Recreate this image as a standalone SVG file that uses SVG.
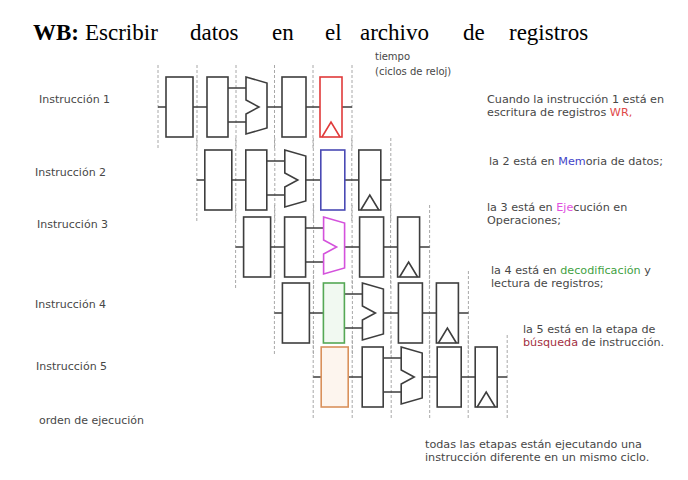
<svg xmlns="http://www.w3.org/2000/svg" width="688" height="480" viewBox="0 0 688 480">
<style>
  .hd { font-family: "Liberation Serif", "Times New Roman", serif; font-size: 23px; fill: #000; }
  .b { font-weight: bold; }
  .lbl { font-family: "DejaVu Sans", Verdana, sans-serif; font-size: 11px; fill: #474747; }
  .note { font-family: "DejaVu Sans", Verdana, sans-serif; font-size: 11.2px; fill: #474747; }
  .sm { font-family: "DejaVu Sans", Verdana, sans-serif; font-size: 10px; fill: #474747; }
  .st { fill: #fff; stroke: #3e3e3e; stroke-width: 1.6; }
  .w { fill: none; stroke: #3e3e3e; stroke-width: 1.6; }
  .clk { stroke: #a8a8a8; stroke-width: 1; stroke-dasharray: 3 2; fill: none; }
  .red { stroke: #e03a3a; }
  .blue { stroke: #4a4ab4; }
  .mag { stroke: #d452dc; }
  .grn { stroke: #55a855; fill: #f1f9f1; }
  .org { stroke: #d9915c; fill: #fdf5ee; }
</style>

<!-- header -->
<g id="header">
  <text class="hd b" x="33" y="40">WB:</text>
  <text class="hd" x="85" y="40">Escribir</text>
  <text class="hd" x="190" y="40">datos</text>
  <text class="hd" x="272" y="40">en</text>
  <text class="hd" x="325" y="40">el</text>
  <text class="hd" x="360" y="40">archivo</text>
  <text class="hd" x="463" y="40">de</text>
  <text class="hd" x="509" y="40">registros</text>
</g>

<g id="time-label">
  <text class="sm" x="375" y="60">tiempo</text>
  <text class="sm" x="375" y="75">(ciclos de reloj)</text>
</g>

<!-- clock boundaries -->
<g id="clock-lines">
  <path class="clk" d="M158 65V149 M197 65V149 M236 65V149 M274.5 65V149 M313 65V149 M352 65V149"/>
  <path class="clk" d="M196.8 138V222 M235.8 138V222 M274.8 138V222 M313.3 138V222 M351.8 138V222 M390.8 138V222"/>
  <path class="clk" d="M235.6 205V289 M274.6 205V289 M313.6 205V289 M352.1 205V289 M390.6 205V289 M429.6 205V289"/>
  <path class="clk" d="M274.4 271V355 M313.4 271V355 M352.4 271V355 M390.9 271V355 M429.4 271V355 M468.4 271V355"/>
  <path class="clk" d="M313.2 335V419 M352.2 335V419 M391.2 335V419 M429.7 335V419 M468.2 335V419 M507.2 335V419"/>
</g>

<!-- connectors (wires between stages) -->
<g id="connectors">
  <path class="w" d="M158 107H166 M193 107H207 M228 88H246 M228 122H246 M267 107H282 M306 107H320 M342 107H352"/>
  <path class="w" d="M196.8 180H204.8 M231.8 180H245.8 M266.8 161H284.8 M266.8 195H284.8 M305.8 180H320.8 M344.8 180H358.8 M380.8 180H390.8"/>
  <path class="w" d="M235.6 247H243.6 M270.6 247H284.6 M305.6 228H323.6 M305.6 262H323.6 M344.6 247H359.6 M383.6 247H397.6 M419.6 247H429.6"/>
  <path class="w" d="M274.4 313H282.4 M309.4 313H323.4 M344.4 294H362.4 M344.4 328H362.4 M383.4 313H398.4 M422.4 313H436.4 M458.4 313H468.4"/>
  <path class="w" d="M313.2 377H321.2 M348.2 377H362.2 M383.2 358H401.2 M383.2 392H401.2 M422.2 377H437.2 M461.2 377H475.2 M497.2 377H507.2"/>
</g>

<!-- Instruction 1 -->
<g id="instr1">
  <rect class="st" x="166" y="77" width="27" height="60"/>
  <rect class="st" x="207" y="77" width="21" height="60"/>
  <polygon class="st" points="246,77 267,83 267,128 246,134 246,114 259,107 246,100"/>
  <rect class="st" x="282" y="77" width="24" height="60"/>
  <rect class="st red" x="320" y="77" width="22" height="60"/>
  <polyline class="w red" points="322,137 331,122 340,137"/>
</g>

<!-- Instruction 2 -->
<g id="instr2">
  <rect class="st" x="204.8" y="150" width="27" height="60"/>
  <rect class="st" x="245.8" y="150" width="21" height="60"/>
  <polygon class="st" points="284.8,150 305.8,156 305.8,201 284.8,207 284.8,187 297.8,180 284.8,173"/>
  <rect class="st blue" x="320.8" y="150" width="24" height="60"/>
  <rect class="st" x="358.8" y="150" width="22" height="60"/>
  <polyline class="w" points="360.8,210 369.8,195 378.8,210"/>
</g>

<!-- Instruction 3 -->
<g id="instr3">
  <rect class="st" x="243.6" y="217" width="27" height="60"/>
  <rect class="st" x="284.6" y="217" width="21" height="60"/>
  <polygon class="st mag" points="323.6,217 344.6,223 344.6,268 323.6,274 323.6,254 336.6,247 323.6,240"/>
  <rect class="st" x="359.6" y="217" width="24" height="60"/>
  <rect class="st" x="397.6" y="217" width="22" height="60"/>
  <polyline class="w" points="399.6,277 408.6,262 417.6,277"/>
</g>

<!-- Instruction 4 -->
<g id="instr4">
  <rect class="st" x="282.4" y="283" width="27" height="60"/>
  <rect class="st grn" x="323.4" y="283" width="21" height="60"/>
  <polygon class="st" points="362.4,283 383.4,289 383.4,334 362.4,340 362.4,320 375.4,313 362.4,306"/>
  <rect class="st" x="398.4" y="283" width="24" height="60"/>
  <rect class="st" x="436.4" y="283" width="22" height="60"/>
  <polyline class="w" points="438.4,343 447.4,328 456.4,343"/>
</g>

<!-- Instruction 5 -->
<g id="instr5">
  <rect class="st org" x="321.2" y="347" width="27" height="60"/>
  <rect class="st" x="362.2" y="347" width="21" height="60"/>
  <polygon class="st" points="401.2,347 422.2,353 422.2,398 401.2,404 401.2,384 414.2,377 401.2,370"/>
  <rect class="st" x="437.2" y="347" width="24" height="60"/>
  <rect class="st" x="475.2" y="347" width="22" height="60"/>
  <polyline class="w" points="477.2,407 486.2,392 495.2,407"/>
</g>

<!-- left labels -->
<g id="labels">
  <text class="lbl" x="39" y="103">Instrucción 1</text>
  <text class="lbl" x="35" y="176">Instrucción 2</text>
  <text class="lbl" x="37" y="228">Instrucción 3</text>
  <text class="lbl" x="35" y="308">Instrucción 4</text>
  <text class="lbl" x="36" y="370">Instrucción 5</text>
  <text class="lbl" x="39" y="424">orden de ejecución</text>
</g>

<!-- right notes -->
<g id="notes">
  <text class="note" x="487" y="103">Cuando la instrucción 1 está en</text>
  <text class="note" x="487" y="116">escritura de registros <tspan fill="#e04848">WR,</tspan></text>
  <text class="note" x="489" y="165">la 2 está en <tspan fill="#4444c8">Mem</tspan>oria de datos;</text>
  <text class="note" x="487" y="211">la 3 está en <tspan fill="#e050e0">Eje</tspan>cución en</text>
  <text class="note" x="487" y="224">Operaciones;</text>
  <text class="note" x="491" y="274">la 4 está en <tspan fill="#3f9f3f">decodificación</tspan> y</text>
  <text class="note" x="491" y="287">lectura de registros;</text>
  <text class="note" x="523" y="333">la 5 está en la etapa de</text>
  <text class="note" x="523" y="346"><tspan fill="#a3303f">búsqueda</tspan> de instrucción.</text>
  <text class="note" x="425" y="448">todas las etapas están ejecutando una</text>
  <text class="note" x="425" y="461">instrucción diferente en un mismo ciclo.</text>
</g>
</svg>
